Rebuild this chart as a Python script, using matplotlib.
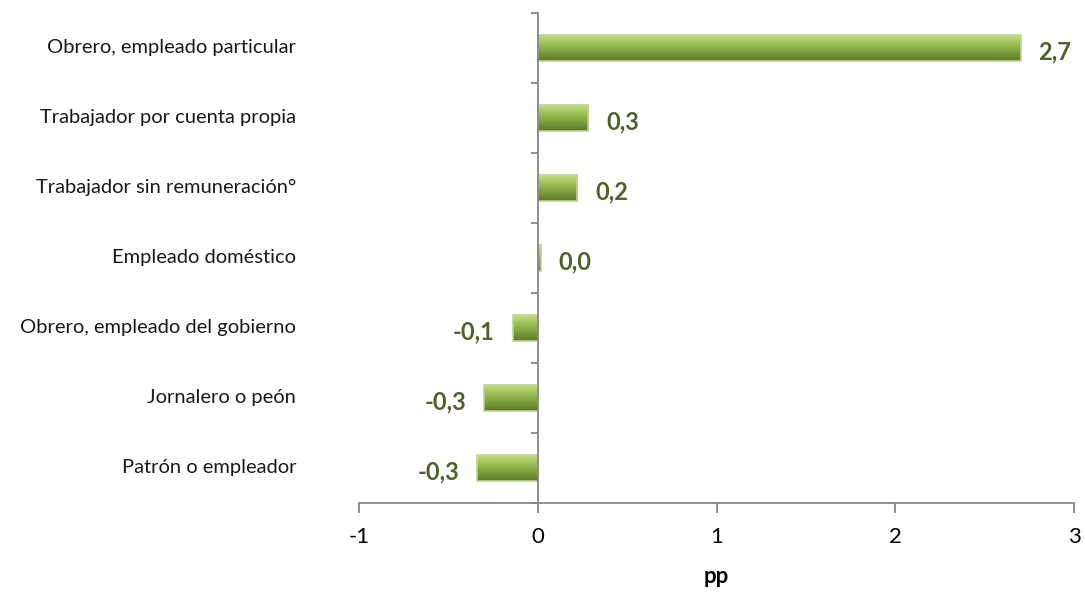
import numpy as np
import matplotlib.pyplot as plt
from matplotlib.colors import LinearSegmentedColormap

plt.rcParams['font.family'] = ['Lato', 'DejaVu Sans']

# Data
categories = ["Obrero, empleado particular", "Trabajador por cuenta propia",
              "Trabajador sin remuneración°", "Empleado doméstico",
              "Obrero, empleado del gobierno", "Jornalero o peón",
              "Patrón o empleador"]
values = [2.70, 0.28, 0.22, 0.015, -0.14, -0.30, -0.34]
labels = ["2,7", "0,3", "0,2", "0,0", "-0,1", "-0,3", "-0,3"]
xticks = [-1, 0, 1, 2, 3]

fig = plt.figure(figsize=(10.85, 5.97), dpi=100)
ax = fig.add_axes([0.331, 0.1575, 0.659, 0.821])

y = np.arange(len(categories))
h = 0.37

# bevel-like vertical gradient for the bars
cmap = LinearSegmentedColormap.from_list('bev', ['#C4DE86', '#9CBF56', '#7C9E3C', '#5C7828'])
grad = np.linspace(0, 1, 64).reshape(-1, 1)

bars = ax.barh(y, values, height=h, color='none', edgecolor='#BFD494', linewidth=1.2, zorder=3)
for b in bars:
    x0, y0 = b.get_x(), b.get_y()
    w, hh = b.get_width(), b.get_height()
    ax.imshow(grad, cmap=cmap, aspect='auto', zorder=2,
              extent=[x0, x0 + w, y0 + hh, y0])

ax.set_xlim(-1, 3)
ax.set_ylim(len(categories) - 0.5, -0.5)

# axes styling
gray = '#868686'
for s in ['top', 'right']:
    ax.spines[s].set_visible(False)
ax.spines['bottom'].set_color(gray)
ax.spines['bottom'].set_linewidth(1.3)
ax.spines['left'].set_position(('data', 0))
ax.spines['left'].set_color(gray)
ax.spines['left'].set_linewidth(1.3)
ax.spines['left'].set_zorder(4)

ax.set_xticks(xticks)
ax.set_xticklabels([str(t) for t in xticks])
ax.tick_params(axis='x', direction='out', length=7, width=1.3, color=gray,
               labelsize=16, pad=10)
ax.set_yticks(np.arange(len(categories) + 1) - 0.5)
ax.set_yticklabels([])
ax.tick_params(axis='y', direction='out', length=5, width=1.3, color=gray)

# category labels on the left
for i, c in enumerate(categories):
    ax.text(-0.088, i, c, transform=ax.get_yaxis_transform(),
            ha='right', va='center', fontsize=14.5, color='#1a1a1a')

# value labels
for i, (v, lab) in enumerate(zip(values, labels)):
    off = 13 if v >= 0 else -13
    ax.annotate(lab, (v, i), xytext=(off, -3), textcoords='offset points',
                ha='left' if v >= 0 else 'right', va='center',
                fontsize=17, fontweight='bold', color='#4F6228')

ax.set_xlabel("pp", fontsize=16, fontweight='bold', labelpad=14)

fig.savefig("out.png", dpi=100)
